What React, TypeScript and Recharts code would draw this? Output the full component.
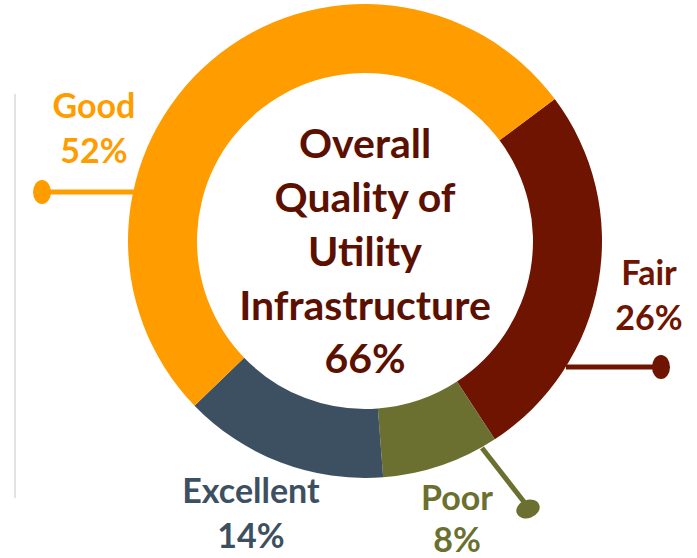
import React from "react";
import { PieChart, Pie, Cell } from "recharts";

const categories = ["Fair", "Poor", "Excellent", "Good"];
const shares = [26, 8, 14, 52];
const colors = ["#6E1400", "#6B7030", "#3D5061", "#FF9C00"];
const centerLines = ["Overall", "Quality of", "Utility", "Infrastructure", "66%"];

const data = categories.map((name, i) => ({ name, value: shares[i] }));

const FONT = "Lato, 'Open Sans', sans-serif";

// label layout relative to pie center (cx, cy)
const labelLayout: Record<string, any> = {
  Good: { tx: -271, ty1: -123, ty2: -78, line: [[-323, -49], [-225, -49]], dot: [-323, -49, 9, 12, 0] },
  Fair: { tx: 284, ty1: 44, ty2: 89, line: [[201, 126], [296, 126]], dot: [296, 126, 9, 12, 0] },
  Poor: { tx: 92, ty1: 269, ty2: 311, line: [[117, 207], [163, 266]], dot: [163, 268, 12, 9, -20] },
  Excellent: { tx: -114, ty1: 262, ty2: 307, line: null, dot: null },
};

const renderLabel = (props: any) => {
  const { cx, cy, name, value, index } = props;
  const L = labelLayout[name];
  const color = colors[index];
  return (
    <g key={`lbl-${name}`}>
      {L.line && (
        <line
          x1={cx + L.line[0][0]}
          y1={cy + L.line[0][1]}
          x2={cx + L.line[1][0]}
          y2={cy + L.line[1][1]}
          stroke={color}
          strokeWidth={5}
        />
      )}
      {L.dot && (
        <ellipse
          cx={cx + L.dot[0]}
          cy={cy + L.dot[1]}
          rx={L.dot[2]}
          ry={L.dot[3]}
          fill={color}
          transform={`rotate(${L.dot[4]} ${cx + L.dot[0]} ${cy + L.dot[1]})`}
        />
      )}
      <text x={cx + L.tx} y={cy + L.ty1} textAnchor="middle" fill={color} fontFamily={FONT} fontWeight={700} fontSize={34}>
        {name}
      </text>
      <text x={cx + L.tx} y={cy + L.ty2} textAnchor="middle" fill={color} fontFamily={FONT} fontWeight={700} fontSize={34}>
        {`${value}%`}
      </text>
    </g>
  );
};

const CX = 365;
const CY = 241;
const centerOffsets = [-83, -29, 25, 79, 132];

export default function App() {
  return (
    <div style={{ position: "absolute", left: 0, top: 0, width: 697, height: 558, background: "#fff" }}>
      <svg width={697} height={558} style={{ position: "absolute", left: 0, top: 0 }}>
        <line x1={15} y1={94} x2={15} y2={498} stroke="#D9D9D9" strokeWidth={1.5} />
      </svg>
      <div style={{ position: "absolute", left: 0, top: 0 }}>
        <PieChart width={697} height={558} margin={{ top: 0, right: 0, bottom: 0, left: 0 }}>
          <Pie
            data={data}
            dataKey="value"
            nameKey="name"
            cx={CX}
            cy={CY}
            innerRadius={168}
            outerRadius={237}
            startAngle={36.8}
            endAngle={-323.2}
            stroke="none"
            labelLine={false}
            label={renderLabel}
            isAnimationActive={false}
          >
            {data.map((d, i) => (
              <Cell key={d.name} fill={colors[i]} />
            ))}
          </Pie>
          <g>
            {centerLines.map((t, i) => (
              <text
                key={t}
                x={CX}
                y={CY + centerOffsets[i]}
                textAnchor="middle"
                fill="#5C1000"
                fontFamily={FONT}
                fontWeight={700}
                fontSize={41}
              >
                {t}
              </text>
            ))}
          </g>
        </PieChart>
      </div>
    </div>
  );
}
